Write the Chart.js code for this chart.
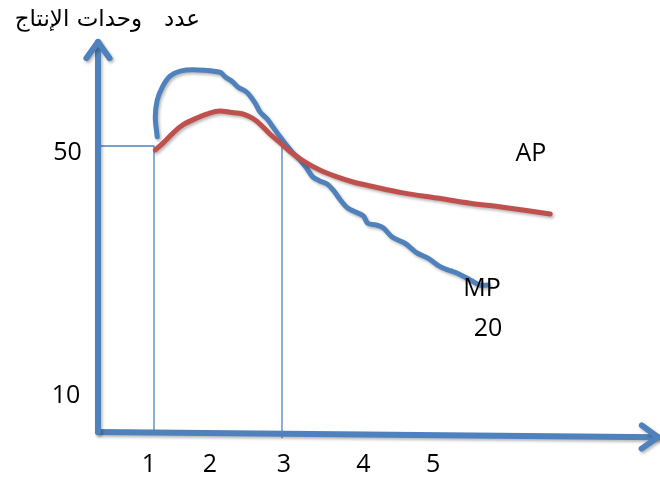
<!DOCTYPE html>
<html>
<head>
<meta charset="utf-8">
<script src="https://cdn.jsdelivr.net/npm/chart.js@4/dist/chart.umd.min.js"></script>
<style>
  html, body { margin: 0; padding: 0; background: #ffffff; }
  #wrap { width: 660px; height: 478px; position: relative; }
</style>
</head>
<body>
<div id="wrap"><canvas id="c"></canvas></div>
<script>
// ---- data (x = units of labour, y = units of output) ----
const titleText = "عدد   وحدات الإنتاج";
const xTickValues = [1, 2, 3, 4, 5];
const xTickLabels = ["1", "2", "3", "4", "5"];
const yTickLabels = ["50", "10", "20"];
const curveLabels = ["AP", "MP"];

// MP (marginal product) curve
const mpX = [1.05, 1.02, 1.05, 1.13, 1.25, 1.41, 1.67, 2.03, 2.11, 2.23, 2.31, 2.45, 2.58, 2.66, 2.77, 2.86, 2.97, 3.08, 3.17, 3.28, 3.38, 3.48, 3.59, 3.70, 3.80, 3.91, 4.02, 4.14, 4.27, 4.34, 4.47, 4.58, 4.72, 4.92, 5.03, 5.11, 5.28, 5.47, 5.63, 5.73, 5.94, 6.09, 6.22];
const mpY = [51.6, 55.1, 58.0, 60.3, 62.2, 63.1, 63.3, 62.9, 62.1, 61.2, 60.3, 59.4, 57.5, 55.9, 54.7, 53.3, 51.6, 50.0, 48.8, 47.6, 46.2, 44.6, 43.9, 43.4, 42.3, 40.6, 39.2, 38.5, 37.8, 36.5, 36.2, 35.7, 34.1, 33.0, 32.0, 31.3, 30.4, 28.9, 28.2, 27.8, 26.6, 25.7, 25.7];

// AP (average product) curve
const apX = [1.02, 1.14, 1.30, 1.45, 1.67, 1.88, 2.03, 2.19, 2.39, 2.53, 2.66, 2.81, 3.00, 3.13, 3.33, 3.59, 3.86, 4.11, 4.38, 4.89, 5.42, 5.94, 6.45, 7.19];
const apY = [49.3, 50.5, 52.3, 53.7, 54.9, 55.8, 56.1, 55.9, 55.6, 54.9, 53.8, 52.1, 50.3, 49.0, 47.4, 45.8, 44.6, 43.7, 43.0, 41.8, 40.9, 40.0, 39.3, 38.1];

// reference guides: output 50 at labour 1, and labour 3
const guideLevel = 50;
const guideX1 = 1;
const guideX3 = 3;
const guideX3Top = 50.5;

// hand-drawn axes (start and end points)
const yAxisX = [0.125, 0.125];
const yAxisY = [0, 68.2];
const xAxisX = [0.125, 8.875];
const xAxisY = [0, -0.9];

// ---- layout (where the texts sit, in chart units) ----
const layout = {
  xMin: -1.40625, xMax: 8.90625, yMin: -8.042, yMax: 75.524,
  tickLabelX: [0.92, 1.875, 3.03, 4.27, 5.36], tickLabelY: -5.77,
  yLabelPos: [[-0.352, 48.86], [-0.375, 6.29], [6.22, 18.0]],
  curveLabelPos: [[6.89, 48.6], [6.125, 25.0]],
  titlePos: [1.72, 72.0]
};

const BLUE = "#4f81bd";
const RED = "#c0504d";

function pts(xs, ys) { return xs.map((x, i) => ({ x: x, y: ys[i] })); }

const datasets = [
  { label: "guide50", data: [{ x: yAxisX[0], y: guideLevel }, { x: guideX1, y: guideLevel }, { x: guideX1, y: 0 }],
    borderColor: BLUE, borderWidth: 1.3, tension: 0, order: 5 },
  { label: "guide3", data: [{ x: guideX3, y: guideX3Top }, { x: guideX3, y: -1 }],
    borderColor: BLUE, borderWidth: 1.3, tension: 0, order: 5 },
  { label: "MP", data: pts(mpX, mpY), borderColor: BLUE, borderWidth: 5, tension: 0.35, order: 3, shadow: true },
  { label: "AP", data: pts(apX, apY), borderColor: RED, borderWidth: 5, tension: 0.35, order: 2, shadow: true },
  { label: "yAxis", data: pts(yAxisX, yAxisY), borderColor: BLUE, borderWidth: 6, tension: 0, order: 1, shadow: true, arrow: true },
  { label: "xAxis", data: pts(xAxisX, xAxisY), borderColor: BLUE, borderWidth: 6, tension: 0, order: 1, shadow: true, arrow: true }
];
datasets.forEach(d => { d.showLine = true; d.pointRadius = 0; d.pointHoverRadius = 0; d.fill = false;
  d.borderCapStyle = "round"; d.borderJoinStyle = "round"; });

const decor = {
  id: "decor",
  beforeDatasetDraw(chart, args) {
    const ds = chart.data.datasets[args.index];
    const ctx = chart.ctx;
    ctx.save();
    if (ds.shadow) {
      ctx.shadowColor = "rgba(0,0,0,0.28)";
      ctx.shadowBlur = 3;
      ctx.shadowOffsetX = 1.5;
      ctx.shadowOffsetY = 2;
    }
  },
  afterDatasetDraw(chart, args) {
    const ds = chart.data.datasets[args.index];
    const ctx = chart.ctx;
    if (ds.arrow) {
      const xs = chart.scales.x, ys = chart.scales.y;
      const a = ds.data[ds.data.length - 2], b = ds.data[ds.data.length - 1];
      const x0 = xs.getPixelForValue(a.x), y0 = ys.getPixelForValue(a.y);
      const x1 = xs.getPixelForValue(b.x), y1 = ys.getPixelForValue(b.y);
      const ang = Math.atan2(y1 - y0, x1 - x0);
      const len = 20, spread = 0.62;
      ctx.strokeStyle = ds.borderColor;
      ctx.lineWidth = 6;
      ctx.lineCap = "round";
      ctx.lineJoin = "round";
      ctx.beginPath();
      ctx.moveTo(x1 - len * Math.cos(ang - spread), y1 - len * Math.sin(ang - spread));
      ctx.lineTo(x1, y1);
      ctx.lineTo(x1 - len * Math.cos(ang + spread), y1 - len * Math.sin(ang + spread));
      ctx.stroke();
    }
    ctx.restore();
  },
  afterDraw(chart) {
    const ctx = chart.ctx;
    const xs = chart.scales.x, ys = chart.scales.y;
    const px = v => xs.getPixelForValue(v), py = v => ys.getPixelForValue(v);
    ctx.save();
    ctx.fillStyle = "#000000";
    ctx.textBaseline = "middle";
    ctx.textAlign = "center";
    ctx.font = "25px 'Open Sans'";
    xTickValues.forEach((v, i) => {
      ctx.fillText(xTickLabels[i], px(layout.tickLabelX[i]), py(layout.tickLabelY));
    });
    yTickLabels.forEach((t, i) => {
      ctx.fillText(t, px(layout.yLabelPos[i][0]), py(layout.yLabelPos[i][1]));
    });
    curveLabels.forEach((t, i) => {
      ctx.fillText(t, px(layout.curveLabelPos[i][0]), py(layout.curveLabelPos[i][1]));
    });
    ctx.font = "23px 'DejaVu Sans'";
    ctx.direction = "rtl";
    ctx.textAlign = "right";
    ctx.fillText(titleText, px(layout.titlePos[0]), py(layout.titlePos[1]));
    ctx.restore();
  }
};

new Chart(document.getElementById("c"), {
  type: "scatter",
  data: { datasets: datasets },
  options: {
    responsive: true,
    maintainAspectRatio: false,
    animation: false,
    layout: { padding: 0 },
    plugins: { legend: { display: false }, tooltip: { enabled: false }, title: { display: false } },
    scales: {
      x: { type: "linear", display: false, min: layout.xMin, max: layout.xMax },
      y: { type: "linear", display: false, min: layout.yMin, max: layout.yMax }
    }
  },
  plugins: [decor]
});
</script>
</body>
</html>
